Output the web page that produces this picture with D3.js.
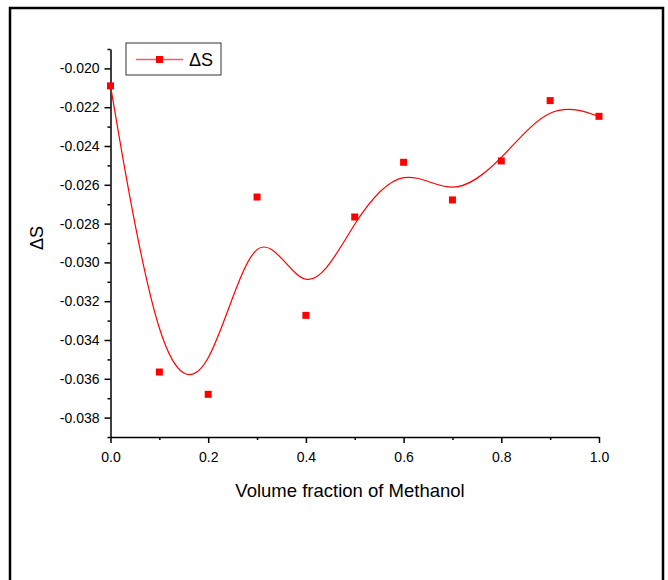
<!DOCTYPE html>
<html lang="en">
<head>
    <meta charset="UTF-8">
    <title>Delta S vs volume fraction of methanol</title>
    <script src="https://d3js.org/d3.v7.min.js"></script>
    <style>
        body { margin: 0; background: #fff; }
        svg { display: block; font-family: "Liberation Sans", Arial, sans-serif; }
        .axis path, .axis line { stroke: #000; stroke-width: 1.5px; }
        .axis text { fill: #000; font-size: 14px; }
    </style>
</head>
<body>
    <div id="chart"></div>
    <script>
        // data
        const fractions = [0.0, 0.1, 0.2, 0.3, 0.4, 0.5, 0.6, 0.7, 0.8, 0.9, 1.0];
        const deltaS = [-0.0209, -0.03565, -0.0368, -0.02663, -0.03273, -0.02766, -0.02484, -0.02678, -0.02477, -0.02166, -0.02247];

        const xTicks = [0.0, 0.2, 0.4, 0.6, 0.8, 1.0];
        const xTickLabels = ["0.0", "0.2", "0.4", "0.6", "0.8", "1.0"];
        const xMinor = [0.1, 0.3, 0.5, 0.7, 0.9];
        const yTicks = [-0.038, -0.036, -0.034, -0.032, -0.030, -0.028, -0.026, -0.024, -0.022, -0.020];
        const yTickLabels = ["-0.038", "-0.036", "-0.034", "-0.032", "-0.030", "-0.028", "-0.026", "-0.024", "-0.022", "-0.020"];
        const yMinor = [-0.039, -0.037, -0.035, -0.033, -0.031, -0.029, -0.027, -0.025, -0.023, -0.021, -0.019];

        const seriesName = "\u0394S";
        const xTitle = "Volume fraction of Methanol";
        const yTitle = "\u0394S";

        const width = 668, height = 580;
        const svg = d3.select("#chart").append("svg")
            .attr("width", width)
            .attr("height", height);

        // outer frame (bottom edge runs off the picture)
        svg.append("rect")
            .attr("x", 10).attr("y", 8)
            .attr("width", 653).attr("height", 590)
            .attr("fill", "none")
            .attr("stroke", "#000")
            .attr("stroke-width", 2.5);

        const x = d3.scaleLinear().domain([0, 1]).range([110.5, 599]);
        const y = d3.scaleLinear().domain([-0.039, -0.019]).range([437, 49]);

        // minor ticks first, then the major axes on top
        svg.append("g")
            .attr("class", "axis")
            .attr("transform", "translate(0,437)")
            .call(d3.axisBottom(x).tickValues(xMinor).tickSize(3).tickFormat(""))
            .call(g => g.select(".domain").remove());

        svg.append("g")
            .attr("class", "axis")
            .attr("transform", "translate(110.5,0)")
            .call(d3.axisLeft(y).tickValues(yMinor).tickSize(3).tickFormat(""))
            .call(g => g.select(".domain").remove());

        svg.append("g")
            .attr("class", "axis")
            .attr("transform", "translate(0,437)")
            .call(d3.axisBottom(x).tickValues(xTicks).tickSizeInner(6).tickSizeOuter(0).tickPadding(9)
                .tickFormat((d, i) => xTickLabels[i]));

        svg.append("g")
            .attr("class", "axis")
            .attr("transform", "translate(110.5,0)")
            .call(d3.axisLeft(y).tickValues(yTicks).tickSizeInner(6).tickSizeOuter(0).tickPadding(5)
                .tickFormat((d, i) => yTickLabels[i]));

        // axis titles
        svg.append("text")
            .attr("x", 350).attr("y", 497)
            .attr("text-anchor", "middle")
            .style("font-size", "18.5px")
            .text(xTitle);

        svg.append("text")
            .attr("transform", "translate(43,238) rotate(-90)")
            .attr("text-anchor", "middle")
            .style("font-size", "18px")
            .text(yTitle);

        const points = fractions.map((f, i) => ({x: f, y: deltaS[i]}));

        // smooth B-spline through the points, like the original
        const line = d3.line()
            .x(d => x(d.x))
            .y(d => y(d.y))
            .curve(d3.curveBasis);

        svg.append("path")
            .datum(points)
            .attr("fill", "none")
            .attr("stroke", "#ff0000")
            .attr("stroke-width", 1.2)
            .attr("d", line);

        const s = 7;
        svg.selectAll(".pt")
            .data(points)
            .enter().append("rect")
            .attr("class", "pt")
            .attr("x", d => x(d.x) - s / 2)
            .attr("y", d => y(d.y) - s / 2)
            .attr("width", s)
            .attr("height", s)
            .attr("fill", "#ff0000");

        // legend
        const lg = svg.append("g").attr("transform", "translate(126,43)");
        lg.append("rect")
            .attr("width", 95).attr("height", 32)
            .attr("fill", "#fff")
            .attr("stroke", "#333")
            .attr("stroke-width", 1);
        lg.append("line")
            .attr("x1", 10).attr("x2", 57)
            .attr("y1", 16.5).attr("y2", 16.5)
            .attr("stroke", "#ff5a5a")
            .attr("stroke-width", 1.5);
        lg.append("rect")
            .attr("x", 33.5 - s / 2).attr("y", 16.5 - s / 2)
            .attr("width", s).attr("height", s)
            .attr("fill", "#ff0000");
        lg.append("text")
            .attr("x", 63).attr("y", 23)
            .style("font-size", "18px")
            .text(seriesName);
    </script>
</body>
</html>
